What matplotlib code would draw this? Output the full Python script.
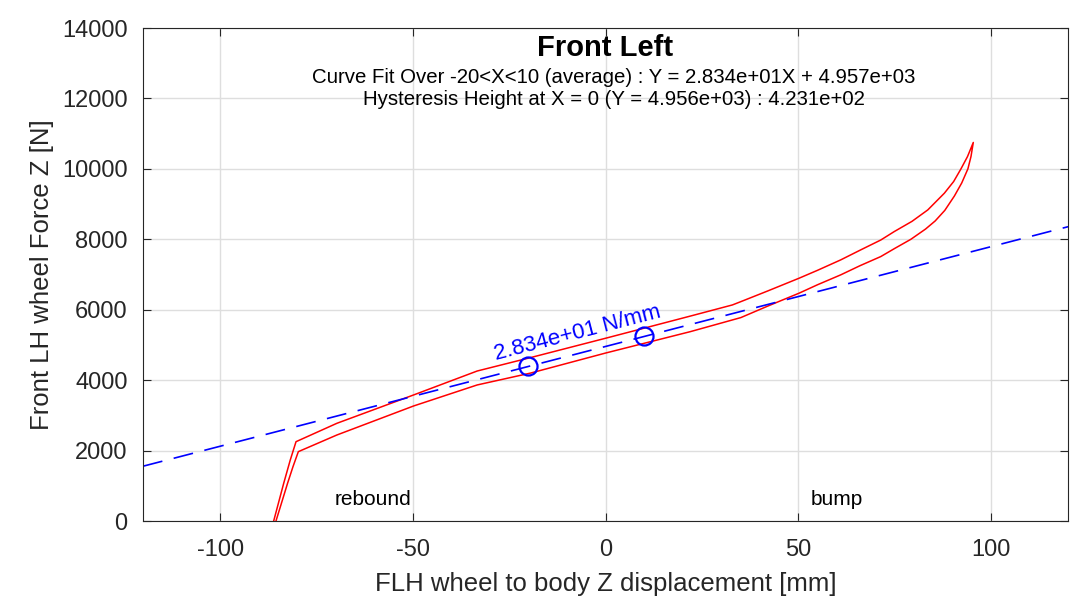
import numpy as np
import matplotlib.pyplot as plt

plt.rcParams['font.family'] = ['Liberation Sans', 'DejaVu Sans']
plt.rcParams['axes.unicode_minus'] = False

# Hysteresis loop: upper branch (bottom -> peak)
x_up = [-86.1, -83.5, -81.8, -80.3, -69.7, -49.8, -33.3, -19.5, 0.0, 22.0,
        32.9, 35.1, 42.0, 50.2, 55.0, 61.0, 66.2, 71.4, 74.9, 79.5, 83.6,
        87.9, 90.3, 92.2, 93.9, 95.4]
y_up = [0, 1070, 1730, 2253, 2775, 3580, 4260, 4640, 5190, 5820,
        6136, 6230, 6530, 6895, 7120, 7415, 7700, 7980, 8220, 8510, 8835,
        9310, 9640, 10000, 10350, 10750]

# lower branch (peak -> bottom)
x_lo = [95.4, 94.8, 94.0, 92.4, 90.5, 88.0, 85.5, 83.0, 79.2, 75.0, 71.4, 66.0,
        61.0, 55.0, 50.2, 42.0, 35.1, 22.0, 0.0, -19.5, -33.3, -49.8, -69.7,
        -79.7, -81.1, -82.5, -85.5]
y_lo = [10750, 10350, 10000, 9600, 9230, 8820, 8520, 8290, 8000, 7740, 7510, 7250,
        6990, 6710, 6470, 6100, 5777, 5378, 4770, 4200, 3864, 3267, 2443,
        1970, 1540, 1070, 0]

slope = 28.34
intercept = 4957.0
fit_x = [-20, 10]

xlim = (-120, 120)
ylim = (0, 14000)

fig = plt.figure(figsize=(10.8, 6.05), dpi=100)
ax = fig.add_axes([0.1324, 0.1388, 0.8566, 0.8149])

ax.plot(x_up + x_lo[1:], y_up + y_lo[1:], color='red', lw=1.1)

xl = np.array(xlim)
ax.plot(xl, slope * xl + intercept, color='blue', lw=1.2, dashes=(12, 7))
fx = np.array(fit_x)
ax.plot(fx, slope * fx + intercept, 'o', ms=13, mfc='none', mec='blue', mew=1.6, ls='none')

ax.set_xlim(xlim)
ax.set_ylim(ylim)
ax.set_xticks(np.arange(-100, 101, 50))
ax.set_yticks(np.arange(0, 14001, 2000))
ax.grid(True, color='#dedede', lw=1)
ax.set_axisbelow(True)
ax.tick_params(direction='in', top=True, right=True, labelsize=17, length=6,
               colors='#262626')
ax.tick_params(axis='y', pad=11)
ax.tick_params(axis='x', pad=13)
for s in ax.spines.values():
    s.set_color('#262626')
    s.set_linewidth(0.8)

ax.set_xlabel('FLH wheel to body Z displacement [mm]', fontsize=18.5,
              color='#262626', labelpad=8)
ax.set_ylabel('Front LH wheel Force Z [N]', fontsize=18.5, color='#262626',
              labelpad=5.5)

# slope label along the line
fig.canvas.draw()
p1 = ax.transData.transform((-50, slope * -50 + intercept))
p2 = ax.transData.transform((50, slope * 50 + intercept))
ang = np.degrees(np.arctan2(p2[1] - p1[1], p2[0] - p1[0]))
ax.text(-7.4, 5340, '2.834e+01 N/mm', color='blue', fontsize=16,
        rotation=ang, rotation_mode='anchor', ha='center', va='center')

ax.text(0.5, 0.959, 'Front Left', transform=ax.transAxes, ha='center',
        va='center', fontsize=21, fontweight='bold')
ax.text(0.509, 0.899, 'Curve Fit Over -20<X<10 (average) : Y = 2.834e+01X + 4.957e+03',
        transform=ax.transAxes, ha='center', va='center', fontsize=14.7)
ax.text(0.509, 0.856, 'Hysteresis Height at X = 0 (Y = 4.956e+03) : 4.231e+02',
        transform=ax.transAxes, ha='center', va='center', fontsize=14.7)

ax.text(-60.3, 625, 'rebound', ha='center', va='center', fontsize=15)
ax.text(60, 625, 'bump', ha='center', va='center', fontsize=15)

fig.savefig('out.png', dpi=100)
